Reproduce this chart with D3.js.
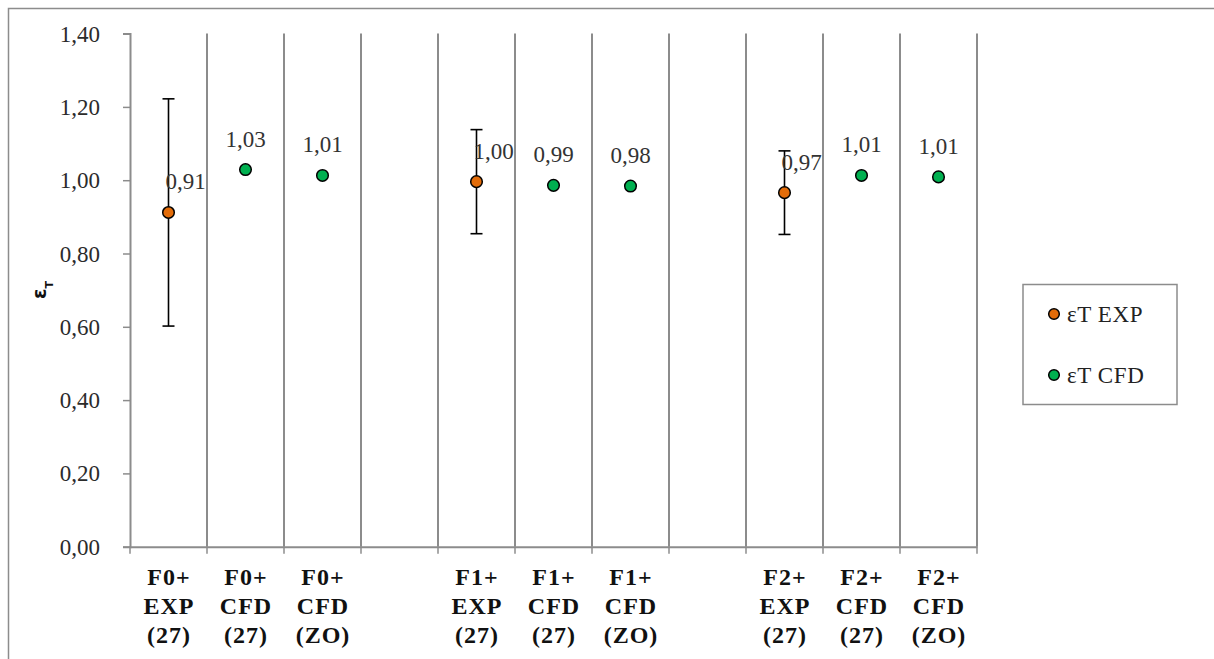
<!DOCTYPE html>
<html><head><meta charset="utf-8">
<script src="https://cdn.jsdelivr.net/npm/d3@7"></script>
<style>
html,body{margin:0;padding:0;background:#fff;}
svg{display:block;}
</style></head>
<body>
<script>
// ---- data ----
const categories = ["F0+|EXP|(27)","F0+|CFD|(27)","F0+|CFD|(ZO)","gap1",
                    "F1+|EXP|(27)","F1+|CFD|(27)","F1+|CFD|(ZO)","gap2",
                    "F2+|EXP|(27)","F2+|CFD|(27)","F2+|CFD|(ZO)"];
const yTicks = [0,0.2,0.4,0.6,0.8,1.0,1.2,1.4];
const expCategories = ["F0+|EXP|(27)","F1+|EXP|(27)","F2+|EXP|(27)"];
const expValues = [0.912, 0.996, 0.966];
const expErrors = [0.31, 0.142, 0.114];
const cfdCategories = ["F0+|CFD|(27)","F0+|CFD|(ZO)","F1+|CFD|(27)","F1+|CFD|(ZO)","F2+|CFD|(27)","F2+|CFD|(ZO)"];
const cfdValues = [1.029, 1.013, 0.986, 0.984, 1.013, 1.009];
const seriesNames = ["\u03B5T EXP","\u03B5T CFD"];
const seriesColors = ["#E36C09","#00B050"];

const SERIF = '"Liberation Serif", "Times New Roman", serif';
const W = 1214, H = 659;
const svg = d3.select("body").append("svg").attr("width",W).attr("height",H);

// outer chart border (extends beyond the view)
svg.append("rect").attr("x",8.5).attr("y",8.5).attr("width",W+20).attr("height",H+20)
  .attr("fill","none").attr("stroke","#8c8c8c").attr("stroke-width",1.5);

const plot = {left:130, right:977, top:33.6, bottom:546.7};
const x = d3.scaleBand().domain(categories).range([plot.left, plot.right]).paddingInner(0).paddingOuter(0);
const y = d3.scaleLinear().domain([0,1.4]).range([plot.bottom, plot.top]);
const fmt = v => d3.format(".2f")(v).replace(".",",");
const gridColor = "#8c8c8c";

// vertical gridlines at category boundaries
const boundaries = categories.map(c => x(c) + x.bandwidth());
svg.append("g").selectAll("line").data(boundaries).join("line")
  .attr("x1",d=>d).attr("x2",d=>d).attr("y1",y(1.4)).attr("y2",y(0))
  .attr("stroke",gridColor).attr("stroke-width",2);

// y axis
const yAxis = svg.append("g").attr("transform",`translate(${plot.left},0)`)
  .call(d3.axisLeft(y).tickValues(yTicks).tickFormat(fmt).tickSize(7).tickPadding(23));
yAxis.select(".domain").attr("stroke",gridColor).attr("stroke-width",2);
yAxis.selectAll(".tick line").attr("stroke",gridColor).attr("stroke-width",1.5);
yAxis.selectAll(".tick text").style("font-family",SERIF).style("font-size","23px").style("fill","#2b2b2b")
  .attr("dy","0.33em");

// x axis
const xAxis = svg.append("g").attr("transform",`translate(0,${plot.bottom})`)
  .call(d3.axisBottom(x).tickSize(0).tickFormat(""));
xAxis.select(".domain").attr("stroke",gridColor).attr("stroke-width",2);
xAxis.selectAll(".tick").remove();
// tick marks at boundaries
svg.append("g").selectAll("line").data([plot.left].concat(boundaries)).join("line")
  .attr("x1",d=>d).attr("x2",d=>d).attr("y1",plot.bottom).attr("y2",plot.bottom+7)
  .attr("stroke",gridColor).attr("stroke-width",1.5);
// x labels
const xl = svg.append("g").selectAll("text").data(categories.filter(c=>c.indexOf("|")>=0)).join("text")
  .attr("x",d=>x(d)+x.bandwidth()/2+0.5).attr("y",585)
  .attr("text-anchor","middle")
  .style("font-family",SERIF).style("font-size","24px").style("font-weight","bold")
  .style("letter-spacing","1px").style("fill","#111");
xl.each(function(d){
  const parts = d.split("|");
  d3.select(this).selectAll("tspan").data(parts).join("tspan")
    .attr("x",x(d)+x.bandwidth()/2+0.5).attr("dy",(p,i)=>i===0?0:29).text(p=>p);
});

// y axis title
const yt = svg.append("text").attr("transform","translate(46,299) rotate(-90)")
  .style("font-size","19px").style("font-weight","bold").style("font-family","DejaVu Sans, sans-serif").style("fill","#111");
yt.append("tspan").text("\u03B5");
yt.append("tspan").style("font-size","11px").attr("dy",7).text("T");

// error bars
const eg = svg.append("g");
expCategories.forEach((c,i)=>{
  const cx = x(c)+x.bandwidth()/2;
  const hi = y(expValues[i]+expErrors[i]), lo = y(expValues[i]-expErrors[i]);
  eg.append("line").attr("x1",cx).attr("x2",cx).attr("y1",hi).attr("y2",lo).attr("stroke","#000").attr("stroke-width",1.6);
  [hi,lo].forEach(yy=>eg.append("line").attr("x1",cx-6).attr("x2",cx+6).attr("y1",yy).attr("y2",yy).attr("stroke","#000").attr("stroke-width",1.6));
});

// points
svg.append("g").selectAll("circle").data(expCategories).join("circle")
  .attr("cx",d=>x(d)+x.bandwidth()/2).attr("cy",(d,i)=>y(expValues[i])).attr("r",5.8)
  .attr("fill",seriesColors[0]).attr("stroke","#000").attr("stroke-width",1.5);
svg.append("g").selectAll("circle").data(cfdCategories).join("circle")
  .attr("cx",d=>x(d)+x.bandwidth()/2).attr("cy",(d,i)=>y(cfdValues[i])).attr("r",5.8)
  .attr("fill",seriesColors[1]).attr("stroke","#000").attr("stroke-width",1.5);

// data labels
svg.append("g").selectAll("text").data(expCategories).join("text")
  .attr("x",d=>x(d)+x.bandwidth()/2+17).attr("y",(d,i)=>y(expValues[i])-23)
  .attr("text-anchor","middle")
  .style("font-family",SERIF).style("font-size","23px").style("fill","#333")
  .text((d,i)=>fmt(expValues[i]));
svg.append("g").selectAll("text").data(cfdCategories).join("text")
  .attr("x",d=>x(d)+x.bandwidth()/2).attr("y",(d,i)=>y(cfdValues[i])-23)
  .attr("text-anchor","middle")
  .style("font-family",SERIF).style("font-size","23px").style("fill","#333")
  .text((d,i)=>fmt(cfdValues[i]));

// legend
const lg = svg.append("g");
lg.append("rect").attr("x",1023).attr("y",284.5).attr("width",154).attr("height",120)
  .attr("fill","#fff").attr("stroke","#8c8c8c").attr("stroke-width",1.5);
seriesNames.forEach((n,i)=>{
  const yy = 314 + i*61;
  lg.append("circle").attr("cx",1054).attr("cy",yy).attr("r",5.3)
    .attr("fill",seriesColors[i]).attr("stroke","#000").attr("stroke-width",1.5);
  lg.append("text").attr("x",1067).attr("y",yy+8)
    .style("font-family",SERIF).style("font-size","23px").style("letter-spacing","0.6px").style("fill","#222").text(n);
});
</script>
</body></html>
